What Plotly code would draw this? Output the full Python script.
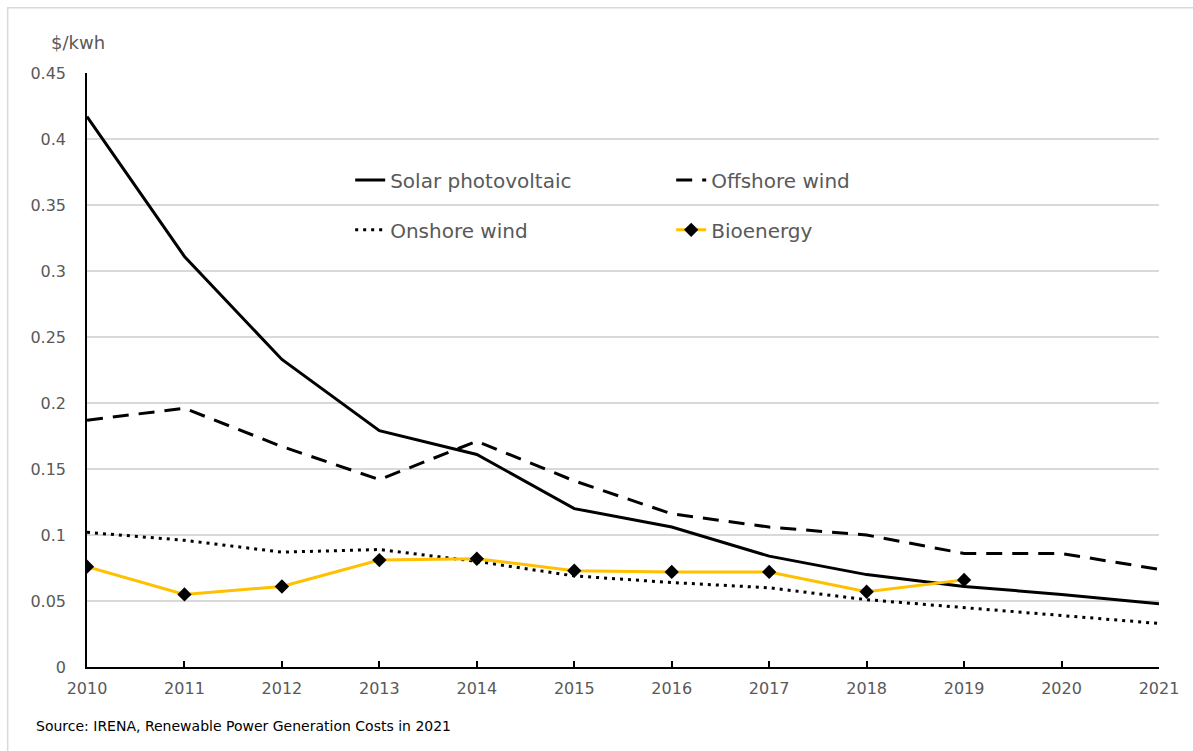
import plotly.graph_objects as go

years = list(range(2010, 2022))
solar = [0.417, 0.311, 0.233, 0.179, 0.161, 0.120, 0.106, 0.084, 0.070, 0.061, 0.055, 0.048]
offshore = [0.187, 0.196, 0.167, 0.142, 0.171, 0.141, 0.116, 0.106, 0.100, 0.086, 0.086, 0.074]
onshore = [0.102, 0.096, 0.087, 0.089, 0.080, 0.069, 0.064, 0.060, 0.051, 0.045, 0.039, 0.033]
bio_years = list(range(2010, 2020))
bio = [0.076, 0.055, 0.061, 0.081, 0.082, 0.073, 0.072, 0.072, 0.057, 0.066]
yticks = [0, 0.05, 0.1, 0.15, 0.2, 0.25, 0.3, 0.35, 0.4, 0.45]
ytick_text = ["0", "0.05", "0.1", "0.15", "0.2", "0.25", "0.3", "0.35", "0.4", "0.45"]

FONT = "DejaVu Sans"
GREY = "#595959"

fig = go.Figure()
fig.add_trace(go.Scatter(x=years, y=solar, mode="lines", name="Solar photovoltaic",
                         line=dict(color="black", width=3), legend="legend"))
fig.add_trace(go.Scatter(x=years, y=offshore, mode="lines", name="Offshore wind",
                         line=dict(color="black", width=3, dash="16px,10px"), legend="legend"))
fig.add_trace(go.Scatter(x=years, y=onshore, mode="lines", name="Onshore wind",
                         line=dict(color="black", width=3, dash="3px,5px"), legend="legend2"))
fig.add_trace(go.Scatter(x=bio_years, y=bio, mode="lines+markers", name="Bioenergy",
                         line=dict(color="#FFC000", width=3),
                         marker=dict(symbol="diamond", size=11, color="black"),
                         legend="legend2"))

legend_common = dict(orientation="h", entrywidth=276, entrywidthmode="pixels",
                     font=dict(family=FONT, size=20, color=GREY), bgcolor="rgba(0,0,0,0)",
                     xanchor="left", yanchor="middle", tracegroupgap=0)

fig.update_layout(
    width=1193, height=751,
    margin=dict(l=87, r=34, t=73, b=84),
    paper_bgcolor="white", plot_bgcolor="white",
    font=dict(family=FONT, size=16, color=GREY),
    showlegend=True,
    legend=dict(x=0.2455, y=0.82, **legend_common),
    legend2=dict(x=0.2455, y=0.736, **legend_common),
    xaxis=dict(range=[2010, 2021], tickmode="array", tickvals=years,
               ticktext=[str(y) for y in years], showgrid=False,
               showline=True, linecolor="black", linewidth=1.5,
               ticks="inside", ticklen=6, tickcolor="black", tickwidth=1.5,
               ticklabelstandoff=6,
               tickfont=dict(family=FONT, size=16, color=GREY), zeroline=False),
    yaxis=dict(range=[0, 0.45], tickmode="array", tickvals=yticks, ticktext=ytick_text,
               showgrid=True, gridcolor="#d9d9d9", gridwidth=1.5,
               showline=True, linecolor="black", linewidth=1.5, zeroline=False,
               ticks="", ticklabelstandoff=16,
               tickfont=dict(family=FONT, size=16, color=GREY)),
    annotations=[
        dict(text="$/kwh", xref="paper", yref="paper", x=-0.0084, y=1.052,
             xanchor="center", yanchor="middle", showarrow=False,
             font=dict(family=FONT, size=18, color=GREY)),
        dict(text="Source: IRENA, Renewable Power Generation Costs in 2021", xref="paper", yref="paper",
             x=-0.049, y=-0.083, xanchor="left", yanchor="top", showarrow=False,
             font=dict(family=FONT, size=14, color="black")),
    ],
    shapes=[
        dict(type="rect", xref="paper", yref="paper", x0=-0.074, x1=1.2, y0=-0.3, y1=1.11,
             line=dict(color="#d9d9d9", width=1.5), fillcolor="rgba(0,0,0,0)", layer="below"),
    ],
)

fig.write_html("out.html")
